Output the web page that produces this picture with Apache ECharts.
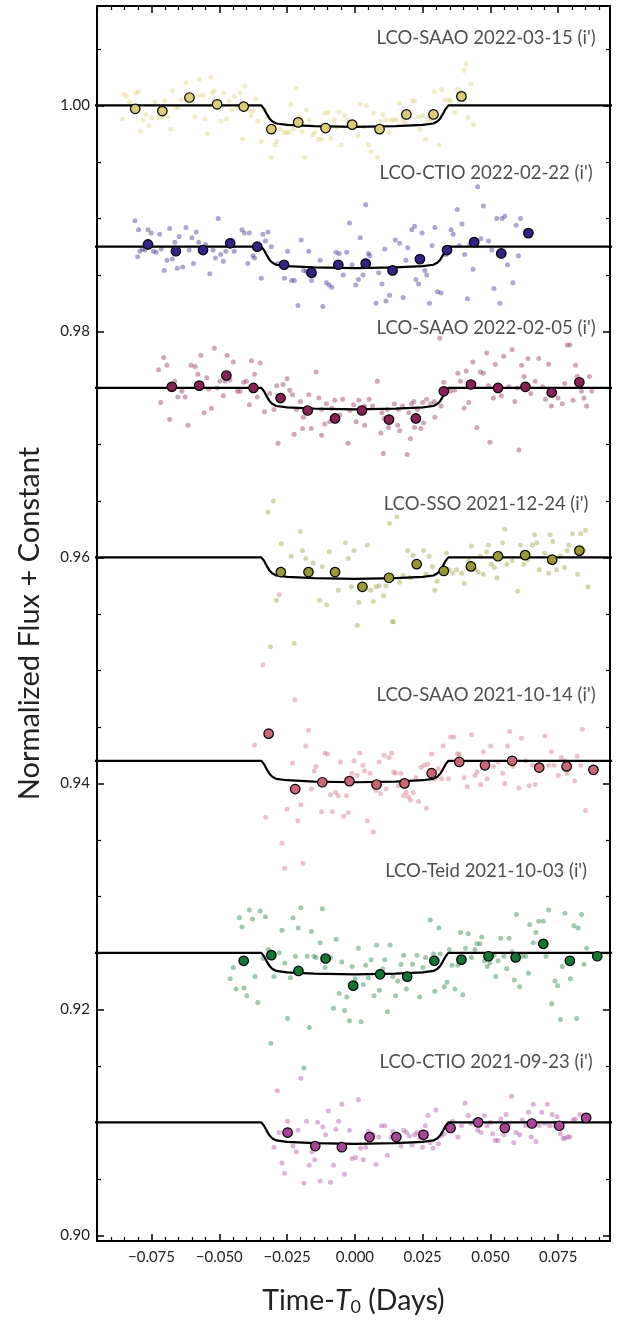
<!DOCTYPE html>
<html>
<head>
<meta charset="utf-8">
<title>TOI light curves</title>
<script src="https://cdn.jsdelivr.net/npm/echarts@6/dist/echarts.min.js"></script>
<style>
  html, body { margin: 0; padding: 0; background: #fff; }
  #chart { width: 621px; height: 1321px; }
</style>
</head>
<body>
<div id="chart"></div>
<script>
/* Light curves: time in 1e-3 days from T0, flux deviation in ppt. */

const panelNames = [
  "LCO-SAAO 2022-03-15 (i')",
  "LCO-CTIO 2022-02-22 (i')",
  "LCO-SAAO 2022-02-05 (i')",
  "LCO-SSO 2021-12-24 (i')",
  "LCO-SAAO 2021-10-14 (i')",
  "LCO-Teid 2021-10-03 (i')",
  "LCO-CTIO 2021-09-23 (i')"
];
const offsets = [1.000, 0.9875, 0.975, 0.960, 0.942, 0.925, 0.910];
const labelFlux = [1.0060, 0.9940, 0.9803, 0.9647, 0.9478, 0.9322, 0.9153];
const labelTime = 0.0484;
const colors = ['#DDCC77', '#332288', '#882255', '#999933', '#CC6677', '#117733', '#AA4499'];

// transit model shape (same for every visit)
const modelT = [-96, -34.5, -33.5, -32.5, -31.5, -30.5, -29, -25, -15, 0, 15, 25, 29, 30.5, 31.5, 32.5, 33.5, 34.5, 96];
const modelPpt = [0, 0, -0.3, -0.75, -1.15, -1.4, -1.6, -1.72, -1.84, -1.9, -1.84, -1.72, -1.6, -1.4, -1.15, -0.75, -0.3, 0, 0];

const rawSaao0315 = [[-85.8,-1.2],[-85.1,1.0],[-84.1,0.8],[-83.0,0.3],[-80.8,1.1],[-79.8,1.2],[-79.1,-2.3],[-78.0,-1.3],[-77.0,-0.8],[-76.0,-1.8],[-75.0,-1.1],[-73.8,0.3],[-72.5,-1.1],[-71.8,-0.5],[-71.0,-1.0],[-70.1,0.4],[-68.9,-1.0],[-67.9,-2.1],[-67.3,1.3],[-66.0,-0.2],[-65.1,-0.1],[-64.0,0.5],[-62.3,2.0],[-61.4,0.4],[-59.0,-1.0],[-57.6,0.9],[-57.5,2.3],[-56.0,0.9],[-55.3,-1.2],[-54.3,-2.5],[-53.1,2.5],[-52.6,1.1],[-51.8,1.3],[-51.0,0.2],[-49.3,-1.4],[-48.3,1.1],[-47.3,-1.2],[-46.4,0.4],[-45.4,-0.4],[-44.5,0.8],[-43.5,-0.2],[-42.3,1.1],[-41.4,-3.0],[-40.5,1.7],[-38.9,-0.4],[-38.3,-0.9],[-37.5,-0.5],[-36.5,0.6],[-35.8,-1.4],[-34.5,-3.2],[-33.5,-0.4],[-32.4,-1.0],[-30.8,-4.6],[-29.5,-3.5],[-28.8,-3.2],[-27.6,-2.1],[-26.1,-2.4],[-25.1,-2.4],[-24.3,-2.4],[-23.6,0.1],[-22.8,-2.1],[-21.6,1.5],[-20.5,-1.0],[-19.5,-2.3],[-18.6,-4.6],[-17.8,-0.4],[-16.8,-1.3],[-15.6,-2.6],[-14.8,-2.4],[-13.5,-3.0],[-12.3,-3.0],[-11.0,-0.7],[-9.8,-0.6],[-8.8,-2.9],[-7.5,-1.3],[-6.6,-1.9],[-5.8,-0.6],[-5.0,-3.5],[-3.8,-0.9],[-2.8,-1.3],[-1.4,-1.9],[1.1,-2.7],[2.0,0.1],[3.3,-1.9],[4.3,0.0],[5.0,-3.5],[6.0,-4.1],[7.0,-0.7],[8.3,-4.6],[9.3,-1.4],[10.3,-0.8],[11.3,-1.3],[12.5,-2.4],[13.3,-1.3],[14.3,-1.3],[15.3,-1.3],[16.3,0.2],[17.5,-1.3],[18.5,-1.5],[21.3,0.4],[22.0,0.4],[23.5,-1.0],[24.0,-2.1],[25.0,-0.9],[26.1,-3.0],[27.0,-1.3],[28.3,-1.3],[29.3,1.2],[31.0,-3.5],[32.0,1.4],[33.0,0.5],[34.5,0.5],[35.3,0.4],[36.8,-0.6],[38.0,1.4],[39.3,1.2],[40.3,3.1],[41.0,3.7],[41.8,-1.1],[42.8,1.9],[43.8,-1.7]];
const binSaao0315 = [[-81.0,-0.3],[-71.0,-0.5],[-61.0,0.7],[-50.8,0.1],[-41.0,-0.1],[-30.8,-2.1],[-20.9,-1.5],[-10.8,-2.0],[-1.0,-1.7],[9.1,-2.1],[19.0,-0.8],[29.0,-0.8],[39.3,0.8]];

const rawCtio0222 = [[-81.1,2.3],[-80.1,-0.9],[-79.8,1.5],[-79.3,-0.4],[-78.3,-0.2],[-77.4,-0.3],[-76.3,1.5],[-75.1,1.2],[-74.3,-0.4],[-73.3,-0.5],[-72.0,1.1],[-71.4,-0.2],[-70.3,-2.1],[-69.3,-1.2],[-68.3,1.6],[-67.3,-1.1],[-66.4,0.4],[-65.5,-1.9],[-64.8,0.9],[-63.5,-1.8],[-62.3,1.7],[-61.1,-0.3],[-60.1,0.8],[-59.5,-1.5],[-58.5,1.3],[-57.6,0.4],[-55.1,0.2],[-53.5,-2.4],[-52.3,-0.3],[-51.4,-1.0],[-50.4,2.5],[-49.5,-0.7],[-48.5,-1.3],[-47.6,-0.4],[-47.0,0.2],[-45.4,0.6],[-44.5,-0.4],[-41.6,1.5],[-40.8,1.2],[-39.5,-1.5],[-38.9,1.2],[-37.6,-0.8],[-37.0,-1.0],[-34.5,-2.8],[-33.9,1.1],[-33.0,0.5],[-32.0,1.3],[-30.8,0.0],[-28.3,-1.5],[-26.0,-2.8],[-24.8,-0.4],[-23.3,-3.0],[-22.3,-3.0],[-21.0,-5.2],[-19.8,0.6],[-18.9,-2.1],[-17.9,-2.2],[-17.0,-0.4],[-16.0,-3.0],[-15.1,-2.5],[-12.8,-1.2],[-11.8,-5.3],[-10.5,-3.2],[-9.5,-3.4],[-8.5,-3.6],[-7.0,-0.5],[-5.8,-0.6],[-4.3,-2.5],[-3.0,-0.5],[-2.0,2.1],[-1.0,-1.6],[0.3,-3.4],[1.3,-2.9],[2.0,0.8],[3.0,-2.5],[4.0,3.7],[5.0,-0.6],[5.5,-0.8],[7.8,-5.0],[8.8,-2.3],[10.0,-3.3],[11.0,-0.2],[11.5,-4.8],[12.8,-4.3],[14.9,0.6],[16.5,0.3],[17.8,-4.5],[18.8,-1.2],[19.5,-0.1],[21.0,1.5],[22.0,1.8],[22.5,-2.9],[23.5,-3.3],[24.8,1.2],[25.8,-2.1],[26.5,-2.5],[27.5,-5.0],[28.5,0.1],[29.5,1.7],[30.5,-4.0],[31.8,-4.1],[33.6,-0.7],[35.5,1.5],[36.3,1.1],[37.8,3.3],[38.5,0.1],[39.5,2.0],[40.5,-0.7],[41.5,-4.6],[42.4,0.2],[43.6,-2.0],[45.3,5.3],[46.5,0.7],[47.4,3.6],[49.3,0.5],[50.5,-0.3],[51.3,-3.7],[52.3,2.5],[53.5,-5.0],[54.3,2.5],[55.3,2.7],[56.3,-1.6],[58.3,-3.2],[59.5,1.9],[60.3,-0.8],[61.1,2.5]];
const binCtio0222 = [[-76.3,0.2],[-66.0,-0.4],[-56.0,-0.3],[-46.0,0.3],[-36.0,0.0],[-26.1,-1.6],[-16.0,-2.3],[-6.1,-1.6],[4.0,-1.5],[13.9,-2.1],[24.0,-1.1],[34.0,-0.3],[44.0,0.4],[54.0,-0.6],[64.0,1.2]];

const rawSaao0205 = [[-72.4,1.6],[-71.6,-1.3],[-70.5,2.7],[-69.3,2.0],[-68.3,-2.8],[-66.4,0.6],[-65.3,-0.8],[-63.8,-0.3],[-62.6,-0.8],[-61.6,-3.3],[-60.4,2.0],[-58.9,1.9],[-57.9,1.2],[-56.8,2.9],[-55.6,-2.2],[-54.6,0.9],[-53.9,-0.1],[-52.9,-1.8],[-51.8,3.5],[-50.8,0.0],[-49.8,0.6],[-48.5,-0.7],[-47.9,0.6],[-47.1,2.9],[-46.1,0.7],[-44.8,2.3],[-43.3,-0.3],[-42.3,-0.3],[-41.0,0.5],[-40.0,0.6],[-38.9,-1.5],[-38.1,2.4],[-37.0,1.2],[-36.0,-0.8],[-34.9,2.2],[-33.3,-2.1],[-31.4,-0.5],[-29.8,-1.9],[-28.8,0.2],[-28.3,-4.9],[-26.5,0.3],[-25.0,0.8],[-24.0,-0.2],[-23.0,-0.6],[-22.4,-4.1],[-21.5,-1.9],[-20.1,-1.2],[-19.3,-3.6],[-19.0,-2.6],[-17.0,-0.6],[-16.1,-3.6],[-14.3,1.4],[-13.3,-0.9],[-12.3,-1.9],[-12.3,-4.2],[-11.1,-3.2],[-10.5,-1.4],[-9.3,-3.0],[-8.5,-1.8],[-7.4,-1.1],[-5.5,-2.4],[-4.5,-1.0],[-2.5,-4.9],[-1.8,-2.0],[-0.5,-1.5],[0.5,-3.0],[1.5,-1.1],[3.6,-1.6],[3.6,-3.3],[5.3,-1.0],[6.5,-1.6],[8.3,0.6],[9.6,-4.0],[10.0,-2.2],[10.5,-5.8],[10.8,-2.7],[12.0,-1.9],[12.4,-3.5],[14.6,-1.4],[15.8,-3.3],[16.1,-1.9],[16.5,-3.8],[17.6,-1.6],[19.3,-5.9],[19.9,-2.2],[20.5,-4.5],[20.9,-1.4],[21.8,-1.2],[22.0,-3.5],[23.0,-1.9],[24.3,-3.6],[25.0,-1.3],[25.3,-3.1],[26.5,-1.0],[28.0,-1.4],[29.3,-1.2],[29.5,-2.6],[31.3,4.4],[31.8,-1.6],[32.8,0.5],[34.0,-0.2],[35.3,-0.3],[36.8,-0.2],[38.0,1.3],[39.0,0.6],[40.3,-1.8],[41.1,1.5],[42.0,-1.3],[43.5,2.3],[44.0,0.4],[45.0,-3.5],[46.3,1.4],[47.4,1.3],[48.6,3.1],[49.3,0.2],[49.8,-4.8],[51.1,-0.9],[51.8,2.1],[54.0,-0.7],[54.9,2.8],[56.8,0.1],[58.0,3.4],[59.0,-1.2],[59.9,0.0],[60.5,-5.5],[61.5,2.0],[62.4,1.0],[63.9,2.6],[64.9,-0.5],[66.5,0.6],[67.8,2.6],[69.3,0.1],[70.3,-1.0],[71.5,2.1],[72.5,-1.6],[73.4,-0.5],[74.9,-0.9],[76.5,-1.4],[77.4,0.4],[78.3,3.8],[79.3,3.8],[80.5,-1.1],[81.4,2.0],[82.0,1.0],[83.6,-0.3],[84.5,-0.9],[85.5,-1.6],[86.5,1.0],[87.4,-0.3]];
const binSaao0205 = [[-67.5,0.1],[-57.4,0.2],[-47.4,1.1],[-37.4,0.0],[-27.4,-0.9],[-17.4,-2.0],[-7.3,-2.7],[2.6,-2.0],[12.6,-2.8],[22.5,-2.7],[32.8,-0.3],[42.8,0.3],[52.8,0.0],[62.9,0.1],[72.6,-0.4],[82.8,0.5]];

const rawSso1224 = [[-32.0,4.0],[-31.1,-7.9],[-30.1,5.0],[-28.9,-3.8],[-27.1,1.2],[-23.5,0.1],[-22.4,-7.6],[-20.1,2.3],[-19.3,0.6],[-18.1,-0.1],[-15.4,-0.5],[-13.0,-3.8],[-12.0,-0.8],[-10.4,-4.2],[-9.4,0.5],[-6.1,-2.9],[-3.5,1.3],[-2.4,-0.1],[-1.3,-2.6],[-0.3,0.6],[0.9,-6.0],[1.5,-4.0],[4.6,1.1],[5.8,-2.9],[6.8,-3.9],[7.8,-2.6],[9.0,-2.5],[10.6,-3.4],[11.5,-2.5],[12.8,3.0],[13.8,-5.7],[14.3,-5.7],[15.5,3.6],[16.5,-2.2],[17.8,-1.6],[19.5,0.6],[20.5,-1.8],[21.5,0.2],[25.3,0.6],[26.3,-1.5],[27.4,0.1],[28.6,-0.8],[29.5,-2.9],[30.3,-2.1],[32.0,-1.2],[33.8,0.4],[34.8,-1.1],[36.1,-1.4],[37.5,-1.1],[39.4,-1.4],[40.3,-2.3],[42.0,-0.3],[43.0,1.0],[44.3,-1.1],[45.5,-1.3],[46.3,0.1],[47.4,-1.5],[48.6,0.5],[49.3,1.1],[50.3,-0.6],[51.5,-0.9],[52.4,-1.8],[53.6,0.4],[54.5,1.3],[55.3,2.5],[56.1,-0.6],[58.0,-0.3],[60.0,-3.0],[61.1,1.1],[62.3,-0.6],[63.8,-0.2],[65.5,1.1],[66.3,2.0],[67.1,1.3],[68.0,-1.1],[70.0,0.4],[71.5,-1.4],[72.0,2.0],[73.0,1.4],[74.4,-1.1],[75.8,0.1],[77.3,-0.9],[78.3,0.6],[79.0,1.1],[80.3,2.1],[82.1,-1.5],[83.3,2.1],[84.5,0.6],[85.1,2.4],[86.0,-2.6]];
const binSso1224 = [[-27.3,-1.3],[-17.1,-1.3],[-7.3,-1.3],[2.8,-2.6],[12.6,-1.8],[22.8,-0.6],[32.8,-1.2],[42.8,-0.8],[52.8,0.1],[62.8,0.2],[72.8,-0.2],[82.8,0.6]];

const rawSaao1014 = [[-37.0,1.4],[-33.9,8.5],[-32.9,-5.0],[-27.9,14.7],[-26.9,-7.3],[-25.9,-9.5],[-25.0,-4.3],[-23.0,-0.2],[-22.1,5.4],[-21.0,-5.3],[-19.9,-3.9],[-19.1,-9.1],[-18.1,1.3],[-17.1,2.7],[-16.0,-2.5],[-15.0,-0.9],[-14.3,-0.5],[-12.3,-4.5],[-11.1,0.7],[-10.1,0.6],[-9.0,-3.0],[-8.3,-4.5],[-7.1,-2.8],[-6.1,-3.1],[-5.3,-0.1],[-4.1,-4.9],[-3.1,-3.1],[-2.4,-4.6],[-1.1,-1.1],[-0.3,0.0],[0.8,-1.3],[1.8,0.7],[3.0,-0.4],[3.6,-0.9],[4.6,-5.3],[5.6,-1.1],[6.8,-6.3],[7.8,-2.6],[8.9,-0.1],[9.5,-2.9],[10.8,0.5],[11.5,-2.5],[12.6,0.3],[13.6,0.7],[14.3,-1.0],[15.1,-1.1],[16.0,-2.2],[17.0,-1.1],[18.0,-3.1],[18.9,-2.8],[19.8,-3.2],[20.5,-3.5],[21.5,-2.8],[22.5,-1.5],[23.5,-3.6],[24.4,-0.6],[25.5,-0.4],[26.4,-4.2],[26.8,-0.3],[28.3,0.6],[29.5,-1.6],[30.8,-0.7],[32.0,-1.6],[32.5,1.3],[34.5,-1.6],[35.3,2.1],[36.5,2.1],[37.8,0.6],[38.6,0.6],[40.3,-1.5],[41.5,-2.3],[43.0,2.3],[44.3,-1.3],[45.1,-1.0],[46.4,-2.1],[47.4,0.8],[48.8,-1.6],[50.1,1.3],[51.1,-0.5],[52.8,-0.1],[54.5,-1.1],[55.3,-2.0],[56.3,1.3],[57.1,2.6],[58.4,-0.5],[60.5,-2.4],[61.5,2.0],[63.0,0.0],[64.3,-2.2],[65.5,-0.4],[66.5,-2.1],[68.0,-0.4],[70.1,2.2],[71.5,-0.4],[72.5,0.8],[73.5,-0.4],[75.0,-1.3],[76.1,0.3],[77.3,0.0],[78.3,-1.1],[79.5,-0.4],[81.1,-1.8],[82.0,0.4],[83.3,-0.4],[83.9,2.8],[85.1,-4.4]];
const binSaao1014 = [[-31.8,2.4],[-22.0,-2.5],[-12.0,-1.9],[-2.0,-1.8],[8.0,-2.1],[18.3,-2.0],[28.3,-1.1],[38.5,-0.1],[48.0,-0.4],[58.0,0.0],[68.0,-0.6],[78.1,-0.5],[88.0,-0.8]];

const rawTeid1003 = [[-46.0,-2.3],[-44.8,-1.3],[-43.8,-3.2],[-42.6,3.1],[-41.6,2.3],[-40.9,-3.1],[-39.9,-3.8],[-38.9,3.8],[-37.8,3.0],[-36.8,-2.1],[-35.8,-4.4],[-34.9,3.7],[-33.8,-0.5],[-33.0,3.2],[-31.9,0.3],[-31.0,-8.0],[-29.8,-2.1],[-27.9,0.0],[-26.9,2.0],[-25.8,-0.9],[-24.8,-5.8],[-23.8,-2.2],[-22.8,3.1],[-21.9,-0.3],[-20.9,2.2],[-19.9,4.0],[-18.8,-10.2],[-17.6,-0.3],[-16.8,-6.6],[-16.0,1.9],[-15.1,-0.3],[-14.3,-0.4],[-12.8,0.9],[-12.0,3.9],[-11.0,-1.3],[-10.0,-0.5],[-9.0,-0.4],[-7.9,-4.9],[-6.9,1.2],[-5.8,-3.6],[-4.8,-0.8],[-3.8,-5.1],[-3.0,-3.9],[-2.0,-6.0],[-1.0,-1.2],[0.1,-2.3],[1.3,0.4],[2.3,-6.1],[3.1,-2.8],[4.0,-1.1],[5.0,-2.2],[6.0,-0.6],[7.1,-3.8],[8.0,0.7],[9.0,-3.3],[10.3,-1.4],[11.0,-0.6],[12.0,-5.2],[13.0,0.7],[14.0,-2.1],[15.0,-3.8],[15.8,-2.5],[17.0,-1.0],[18.0,-0.2],[19.0,-3.2],[20.0,-2.0],[21.3,-1.0],[22.9,-0.2],[23.9,-3.9],[25.1,-1.3],[26.1,-0.4],[27.8,2.9],[29.0,-0.1],[29.5,-3.4],[31.0,2.2],[31.5,-0.1],[33.0,-3.0],[34.0,-2.6],[34.8,0.3],[35.8,-1.1],[36.9,-3.2],[38.0,-1.1],[39.0,1.8],[39.8,-3.7],[40.8,0.4],[41.8,1.7],[43.0,-0.4],[44.3,0.3],[45.0,0.8],[46.1,0.8],[46.8,1.4],[47.8,-0.7],[48.8,-1.2],[49.8,-0.9],[51.3,-0.2],[52.0,-2.1],[52.8,-0.7],[53.8,1.3],[55.0,-0.3],[56.0,-1.4],[56.9,1.3],[58.0,0.1],[58.8,-2.4],[59.6,3.4],[60.8,-3.0],[61.8,-0.3],[63.0,-0.3],[64.0,-1.8],[64.5,2.5],[65.8,0.9],[66.8,1.8],[67.8,2.8],[69.5,2.8],[70.5,-0.3],[71.5,3.8],[72.6,-4.5],[73.8,-2.5],[74.8,-2.9],[75.8,-5.9],[76.5,-1.2],[77.5,3.5],[79.5,-2.3],[80.8,2.4],[81.8,-5.8],[82.3,2.2],[83.6,3.4],[84.5,-1.0],[85.5,0.4]];
const binTeid1003 = [[-41.0,-0.7],[-30.8,-0.2],[-20.8,-1.6],[-10.8,-0.5],[-0.6,-2.9],[9.3,-1.9],[19.3,-2.1],[29.3,-0.7],[39.3,-0.6],[49.3,-0.3],[59.3,-0.4],[69.5,0.8],[79.3,-0.7],[89.4,-0.3]];

const rawCtio0923 = [[-29.8,-2.2],[-28.6,2.8],[-27.9,-0.9],[-26.9,-3.6],[-25.9,-4.5],[-24.8,0.1],[-22.8,-2.1],[-21.6,-2.6],[-20.9,-0.7],[-19.9,3.9],[-18.8,-5.4],[-17.8,0.1],[-16.8,-3.8],[-15.8,-2.6],[-14.8,-3.3],[-13.8,0.0],[-12.8,-5.2],[-11.8,-0.4],[-10.8,-1.1],[-9.8,1.0],[-9.0,-5.3],[-7.9,-3.8],[-7.0,-0.6],[-6.0,0.1],[-4.8,1.6],[-3.8,-4.6],[-2.0,-0.7],[-1.0,-3.2],[0.3,-3.1],[1.3,2.0],[2.1,-2.3],[3.1,-3.3],[4.0,-2.2],[5.0,-0.8],[5.5,-1.0],[6.8,-1.1],[7.8,-3.7],[8.8,-1.3],[9.8,-0.3],[11.0,-0.3],[12.0,-2.9],[13.3,-1.3],[14.0,-0.8],[15.5,-1.6],[17.0,-2.1],[18.0,-0.7],[19.0,-0.9],[20.1,-1.2],[21.1,-2.0],[22.0,-1.1],[23.0,-0.9],[24.0,-1.4],[25.0,-2.2],[26.0,-0.3],[27.0,0.6],[27.8,-1.8],[28.8,-2.3],[29.9,1.1],[30.8,-1.9],[31.8,-1.2],[32.9,-1.0],[34.0,-0.5],[34.8,-0.7],[36.0,0.1],[38.0,-1.3],[39.3,-0.3],[40.6,1.7],[41.8,0.6],[42.8,-0.1],[44.0,0.1],[45.3,-0.7],[46.5,-0.9],[47.8,0.6],[48.8,-0.3],[50.0,0.0],[50.8,-1.0],[51.8,-1.6],[52.8,-1.6],[53.8,0.3],[55.0,-1.1],[55.8,0.7],[56.8,-0.2],[57.8,2.3],[58.6,-1.8],[59.5,-0.9],[60.8,-1.1],[61.8,0.2],[63.0,-0.3],[64.0,0.9],[65.0,-1.3],[65.8,1.6],[66.8,-1.7],[68.0,-0.3],[68.9,0.9],[70.0,-0.1],[71.0,1.6],[71.8,-0.3],[72.8,0.7],[73.8,-0.3],[74.6,0.5],[75.8,-1.0],[76.8,-1.4],[77.5,-1.4],[78.5,-1.3],[79.3,-1.3],[80.5,0.2],[81.3,0.3],[83.0,0.7],[84.3,0.1],[85.5,0.5]];
const binCtio0923 = [[-24.8,-0.9],[-14.6,-2.1],[-4.8,-2.2],[5.4,-1.3],[15.3,-1.3],[25.3,-1.1],[35.3,-0.5],[45.5,0.0],[55.3,-0.5],[65.3,-0.1],[75.4,-0.3],[85.3,0.4]];

const rawSets = [rawSaao0315, rawCtio0222, rawSaao0205, rawSso1224, rawSaao1014, rawTeid1003, rawCtio0923];
const binSets = [binSaao0315, binCtio0222, binSaao0205, binSso1224, binSaao1014, binTeid1003, binCtio0923];

const FONT = 'Lato, "Open Sans", sans-serif';
const chart = echarts.init(document.getElementById('chart'), null, {renderer: 'canvas'});

const series = [];
panelNames.forEach(function (name, i) {
  const off = offsets[i];
  const toPoint = function (p) { return [p[0] / 1000, off + p[1] / 1000]; };

  series.push({
    type: 'scatter', name: name + ' raw', data: rawSets[i].map(toPoint),
    symbolSize: 5, itemStyle: {color: colors[i], opacity: 0.4}, z: 2, silent: true
  });
  series.push({
    type: 'line', name: name + ' model',
    data: modelT.map(function (t, k) { return [t / 1000, off + modelPpt[k] / 1000]; }),
    showSymbol: false, symbol: 'none', lineStyle: {color: '#000', width: 2.2}, z: 3, silent: true
  });
  series.push({
    type: 'scatter', name: name + ' binned', data: binSets[i].map(toPoint),
    symbolSize: 9.5, itemStyle: {color: colors[i], borderColor: '#000', borderWidth: 1.2, opacity: 1}, z: 4, silent: true
  });
});

// visit labels
series.push({
  type: 'scatter', symbolSize: 0, silent: true, z: 5,
  data: panelNames.map(function (n, i) { return {name: n, value: [labelTime, labelFlux[i]]}; }),
  label: {show: true, position: 'inside', formatter: '{b}', color: '#222', fontSize: 18.5, fontFamily: FONT}
});

const tickCommon = {
  splitLine: {show: false},
  axisLine: {show: true, onZero: false, lineStyle: {color: '#000', width: 2}},
  axisTick: {show: true, inside: true, length: 7, lineStyle: {color: '#000', width: 1.5}},
  minorTick: {show: true, length: 4, lineStyle: {color: '#000', width: 1.2}},
  minorSplitLine: {show: false}
};

function xAxisAt(position, withLabels) {
  return Object.assign({}, tickCommon, {
    type: 'value', position: position,
    min: -0.0951, max: 0.0941, minInterval: 0.025, maxInterval: 0.025,
    minorTick: Object.assign({}, tickCommon.minorTick, {splitNumber: 5}),
    axisLabel: {
      show: withLabels, showMinLabel: false, showMaxLabel: false, margin: 9,
      color: '#222', fontSize: 15, fontFamily: FONT,
      formatter: function (v) { return v.toFixed(3).replace('-', '\u2212'); }
    }
  });
}

function yAxisAt(position, withLabels) {
  return Object.assign({}, tickCommon, {
    type: 'value', position: position,
    min: 0.8995, max: 1.0088, minInterval: 0.02, maxInterval: 0.02,
    minorTick: Object.assign({}, tickCommon.minorTick, {splitNumber: 4}),
    axisLabel: {
      show: withLabels, showMinLabel: false, showMaxLabel: false, margin: 7,
      color: '#222', fontSize: 15, fontFamily: FONT,
      formatter: function (v) { return v.toFixed(2); }
    }
  });
}

const xBottom = xAxisAt('bottom', true);
xBottom.name = '{n|Time-}{i|T}{s|0}{n| (Days)}';
xBottom.nameLocation = 'middle';
xBottom.nameGap = 44;
xBottom.nameTextStyle = {
  rich: {
    n: {fontSize: 28.5, fontFamily: FONT, color: '#222'},
    i: {fontSize: 28.5, fontFamily: FONT, fontStyle: 'italic', color: '#222'},
    s: {fontSize: 18, fontFamily: FONT, color: '#222', padding: [13, 0, 0, 0]}
  }
};
const xTop = xAxisAt('top', false);

const yLeft = yAxisAt('left', true);
yLeft.name = 'Normalized Flux + Constant';
yLeft.nameLocation = 'middle';
yLeft.nameGap = 53;
yLeft.nameTextStyle = {fontSize: 29, fontFamily: FONT, color: '#222'};
const yRight = yAxisAt('right', false);

chart.setOption({
  animation: false,
  backgroundColor: '#fff',
  grid: {left: 97, top: 6, width: 513, height: 1240, containLabel: false},
  xAxis: [xBottom, xTop],
  yAxis: [yLeft, yRight],
  series: series
});
</script>
</body>
</html>
